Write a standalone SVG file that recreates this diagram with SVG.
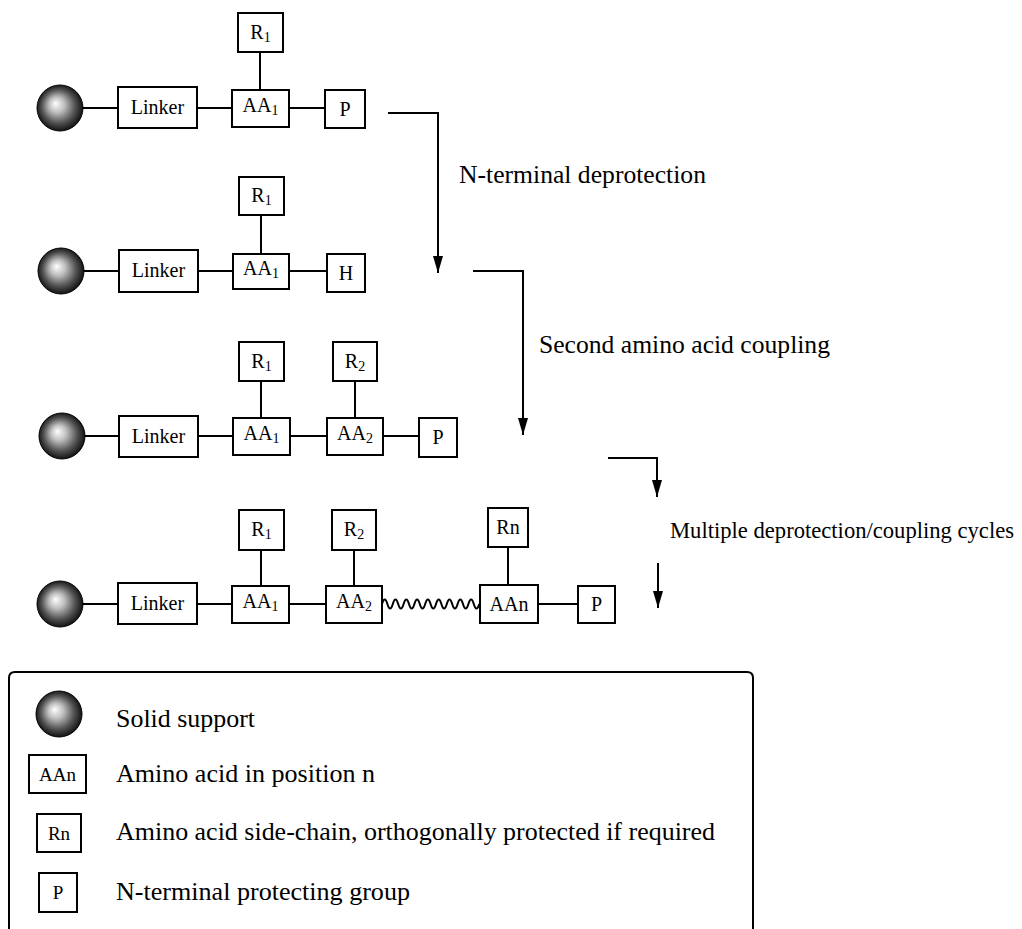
<svg xmlns="http://www.w3.org/2000/svg" width="1022" height="929" viewBox="0 0 1022 929">
<style>
.box{fill:#fff;stroke:#000;stroke-width:2}
.ln{stroke:#000;stroke-width:2;fill:none}
.lbl{font-family:"Liberation Serif","Times New Roman",serif;font-size:20px;text-anchor:middle;fill:#000}
.sub{font-size:14px}
.cap{font-family:"Liberation Serif","Times New Roman",serif;font-size:25px;fill:#000}
.lg{font-family:"Liberation Serif","Times New Roman",serif;font-size:19px;text-anchor:middle;fill:#000}
.sph{fill:url(#sg);stroke:#000;stroke-width:1}
</style>
<defs>
<radialGradient id="sg" cx="0.5" cy="0.5" r="0.55" fx="0.4" fy="0.4">
<stop offset="0" stop-color="#ffffff"/>
<stop offset="0.3" stop-color="#c0c0c0"/>
<stop offset="0.65" stop-color="#555555"/>
<stop offset="1" stop-color="#000000"/>
</radialGradient>
<marker id="ahd" markerUnits="userSpaceOnUse" markerWidth="18" markerHeight="10" viewBox="0 0 18 10" refX="17" refY="5" orient="auto">
<path d="M0,0 L17,5 L0,10 Z" fill="#000"/>
</marker>
</defs>

<g id="connectors">
<line class="ln" x1="83" y1="108" x2="118" y2="108"/>
<line class="ln" x1="197" y1="108" x2="232" y2="108"/>
<line class="ln" x1="289" y1="108" x2="325" y2="108"/>
<line class="ln" x1="260" y1="52" x2="260" y2="90"/>
<line class="ln" x1="84" y1="271" x2="119" y2="271"/>
<line class="ln" x1="198" y1="271" x2="233" y2="271"/>
<line class="ln" x1="289" y1="271" x2="327" y2="271"/>
<line class="ln" x1="261" y1="215" x2="261" y2="254"/>
<line class="ln" x1="85" y1="436" x2="119" y2="436"/>
<line class="ln" x1="198" y1="436" x2="233" y2="436"/>
<line class="ln" x1="290" y1="436" x2="327" y2="436"/>
<line class="ln" x1="383" y1="436" x2="419" y2="436"/>
<line class="ln" x1="261" y1="381" x2="261" y2="418"/>
<line class="ln" x1="355" y1="381" x2="355" y2="418"/>
<line class="ln" x1="83" y1="604" x2="118" y2="604"/>
<line class="ln" x1="197" y1="604" x2="232" y2="604"/>
<line class="ln" x1="289" y1="604" x2="326" y2="604"/>
<path class="ln" d="M382,604 q2.7,-9 5.4,0 q2.7,9 5.4,0 q2.7,-9 5.4,0 q2.7,9 5.4,0 q2.7,-9 5.4,0 q2.7,9 5.4,0 q2.7,-9 5.4,0 q2.7,9 5.4,0 q2.7,-9 5.4,0 q2.7,9 5.4,0 q2.7,-9 5.4,0 q2.7,9 5.4,0 q2.7,-9 5.4,0 q2.7,9 5.4,0 q2.7,-9 5.4,0 q2.7,9 5.4,0 q2.7,-9 5.4,0 q2.7,9 5.4,0"/>
<line class="ln" x1="538" y1="604" x2="578" y2="604"/>
<line class="ln" x1="261" y1="550" x2="261" y2="586"/>
<line class="ln" x1="354" y1="550" x2="354" y2="586"/>
<line class="ln" x1="508" y1="547" x2="508" y2="585"/>
<polyline class="ln" points="388,113 438,113 438,273" marker-end="url(#ahd)"/>
<polyline class="ln" points="473,271 523,271 523,435" marker-end="url(#ahd)"/>
<polyline class="ln" points="608,458 657,458 657,497" marker-end="url(#ahd)"/>
<line class="ln" x1="658" y1="563" x2="658" y2="608" marker-end="url(#ahd)"/>
</g>

<g id="row1">
<circle class="sph" cx="60" cy="108" r="23"/>
<rect class="box" x="118" y="87" width="79" height="41"/>
<text class="lbl" x="157.5" y="114">Linker</text>
<rect class="box" x="232" y="90" width="57" height="37"/>
<text class="lbl" x="260.5" y="112">AA<tspan class="sub" dy="3">1</tspan></text>
<rect class="box" x="238" y="13" width="45" height="39"/>
<text class="lbl" x="260.5" y="39">R<tspan class="sub" dy="3">1</tspan></text>
<rect class="box" x="325" y="90" width="40" height="38"/>
<text class="lbl" x="345" y="116">P</text>
</g>

<g id="row2">
<circle class="sph" cx="61" cy="271" r="23"/>
<rect class="box" x="119" y="250" width="79" height="42"/>
<text class="lbl" x="158.5" y="277">Linker</text>
<rect class="box" x="233" y="254" width="56" height="35"/>
<text class="lbl" x="261" y="275">AA<tspan class="sub" dy="3">1</tspan></text>
<rect class="box" x="239" y="177" width="45" height="38"/>
<text class="lbl" x="261.5" y="202">R<tspan class="sub" dy="3">1</tspan></text>
<rect class="box" x="327" y="254" width="38" height="38"/>
<text class="lbl" x="346" y="280">H</text>
</g>

<g id="row3">
<circle class="sph" cx="62" cy="436" r="23"/>
<rect class="box" x="119" y="416" width="79" height="41"/>
<text class="lbl" x="158.5" y="443">Linker</text>
<rect class="box" x="233" y="418" width="57" height="37"/>
<text class="lbl" x="261.5" y="440">AA<tspan class="sub" dy="3">1</tspan></text>
<rect class="box" x="239" y="342" width="45" height="39"/>
<text class="lbl" x="261.5" y="368">R<tspan class="sub" dy="3">1</tspan></text>
<rect class="box" x="327" y="418" width="56" height="37"/>
<text class="lbl" x="355" y="440">AA<tspan class="sub" dy="3">2</tspan></text>
<rect class="box" x="333" y="342" width="44" height="39"/>
<text class="lbl" x="355" y="368">R<tspan class="sub" dy="3">2</tspan></text>
<rect class="box" x="419" y="418" width="38" height="39"/>
<text class="lbl" x="438" y="444">P</text>
</g>

<g id="row4">
<circle class="sph" cx="60" cy="604" r="23"/>
<rect class="box" x="118" y="583" width="79" height="41"/>
<text class="lbl" x="157.5" y="610">Linker</text>
<rect class="box" x="232" y="586" width="57" height="37"/>
<text class="lbl" x="260.5" y="608">AA<tspan class="sub" dy="3">1</tspan></text>
<rect class="box" x="239" y="510" width="45" height="40"/>
<text class="lbl" x="261.5" y="536">R<tspan class="sub" dy="3">1</tspan></text>
<rect class="box" x="326" y="586" width="56" height="37"/>
<text class="lbl" x="354" y="608">AA<tspan class="sub" dy="3">2</tspan></text>
<rect class="box" x="332" y="510" width="44" height="40"/>
<text class="lbl" x="354" y="536">R<tspan class="sub" dy="3">2</tspan></text>
<rect class="box" x="480" y="585" width="58" height="38"/>
<text class="lbl" x="509" y="611">AAn</text>
<rect class="box" x="488" y="508" width="40" height="39"/>
<text class="lbl" x="508" y="534">Rn</text>
<rect class="box" x="578" y="586" width="37" height="37"/>
<text class="lbl" x="596.5" y="611">P</text>
</g>

<g id="step-labels">
<text class="cap" x="459" y="183" textLength="247" lengthAdjust="spacingAndGlyphs">N-terminal deprotection</text>
<text class="cap" x="539" y="353" textLength="291" lengthAdjust="spacingAndGlyphs">Second amino acid coupling</text>
<text class="cap" x="670" y="538" style="font-size:22.5px" textLength="344" lengthAdjust="spacingAndGlyphs">Multiple deprotection/coupling cycles</text>
</g>

<g id="legend">
<path d="M9,935 L9,678 Q9,672 15,672 L747,672 Q753,672 753,678 L753,935" fill="none" stroke="#000" stroke-width="2"/>
<circle class="sph" cx="59" cy="714" r="23"/>
<text class="cap" x="116" y="727" textLength="139" lengthAdjust="spacingAndGlyphs">Solid support</text>
<rect class="box" x="29" y="755" width="57" height="38"/>
<text class="lg" x="57.5" y="781">AAn</text>
<text class="cap" x="116" y="782" textLength="259" lengthAdjust="spacingAndGlyphs">Amino acid in position n</text>
<rect class="box" x="37" y="814" width="44" height="38"/>
<text class="lg" x="59" y="840">Rn</text>
<text class="cap" x="116" y="840" textLength="599" lengthAdjust="spacingAndGlyphs">Amino acid side-chain, orthogonally protected if required</text>
<rect class="box" x="39" y="873" width="38" height="39"/>
<text class="lg" x="58" y="899">P</text>
<text class="cap" x="116" y="900" textLength="294" lengthAdjust="spacingAndGlyphs">N-terminal protecting group</text>
</g>
</svg>
